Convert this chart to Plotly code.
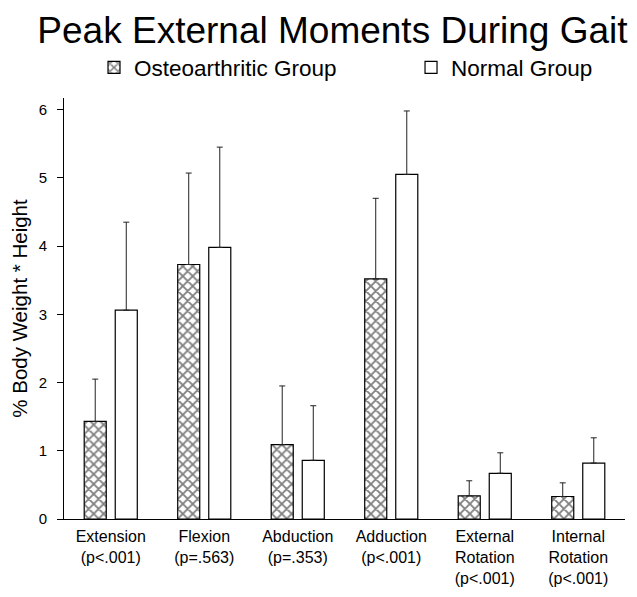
import plotly.graph_objects as go

# Momentos externos de pico durante a marcha (% peso corporal * altura)
categorias = [
    "Extension<br>(p<.001)",
    "Flexion<br>(p=.563)",
    "Abduction<br>(p=.353)",
    "Adduction<br>(p<.001)",
    "External<br>Rotation<br>(p<.001)",
    "Internal<br>Rotation<br>(p<.001)",
]
osteo_media = [1.43, 3.73, 1.09, 3.52, 0.34, 0.33]
osteo_dp = [0.62, 1.34, 0.86, 1.18, 0.22, 0.20]
normal_media = [3.06, 3.98, 0.86, 5.05, 0.67, 0.82]
normal_dp = [1.29, 1.47, 0.80, 0.93, 0.30, 0.37]

fonte = "Liberation Sans, Arial, sans-serif"

fig = go.Figure()

fig.add_trace(go.Bar(
    x=categorias,
    y=osteo_media,
    name="Osteoarthritic Group",
    legend="legend",
    marker=dict(
        color="white",
        line=dict(color="black", width=1.2),
        pattern=dict(shape="x", fgcolor="black", bgcolor="white", size=7, solidity=0.45),
    ),
    error_y=dict(type="data", array=osteo_dp, symmetric=False,
                 arrayminus=[0] * len(osteo_dp),
                 color="#222222", thickness=1, width=3),
))

fig.add_trace(go.Bar(
    x=categorias,
    y=normal_media,
    name="Normal Group",
    legend="legend2",
    marker=dict(color="white", line=dict(color="black", width=1.2)),
    error_y=dict(type="data", array=normal_dp, symmetric=False,
                 arrayminus=[0] * len(normal_dp),
                 color="#222222", thickness=1, width=3),
))

# a página tem margem de 8px no body, por isso a figura é 16px menor
legenda_base = dict(
    orientation="h",
    xref="container", yref="container",
    xanchor="left", yanchor="middle",
    y=0.897,
    font=dict(size=22.5, family=fonte),
)

fig.update_layout(
    width=621,
    height=581,
    showlegend=True,
    paper_bgcolor="white",
    plot_bgcolor="white",
    font=dict(family=fonte, color="black"),
    title=dict(
        text="Peak External Moments During Gait",
        font=dict(size=37, family=fonte, color="black"),
        x=0.5225, xanchor="center",
        y=0.962, yanchor="middle",
    ),
    legend=dict(legenda_base, x=0.1385),
    legend2=dict(legenda_base, x=0.649),
    margin=dict(l=56, r=4, t=90, b=70, autoexpand=False),
    barmode="group",
    bargap=0.336,
    bargroupgap=0.29,
)

fig.update_xaxes(
    showline=True, linecolor="black", linewidth=1,
    ticks="", showgrid=False, zeroline=False,
    tickfont=dict(size=16, family=fonte),
    ticklabelstandoff=3,
    range=[-0.5, 5.5],
)

fig.update_yaxes(
    range=[0, 6.17],
    showline=True, linecolor="black", linewidth=1,
    ticks="outside", ticklen=6, tickcolor="black",
    tickvals=[0, 1, 2, 3, 4, 5, 6],
    ticklabelstandoff=7,
    showgrid=False, zeroline=False,
    tickfont=dict(size=15, family=fonte),
    title=dict(text="% Body Weight * Height", font=dict(size=20.5, family=fonte), standoff=14),
)

fig.write_html("out.html")
